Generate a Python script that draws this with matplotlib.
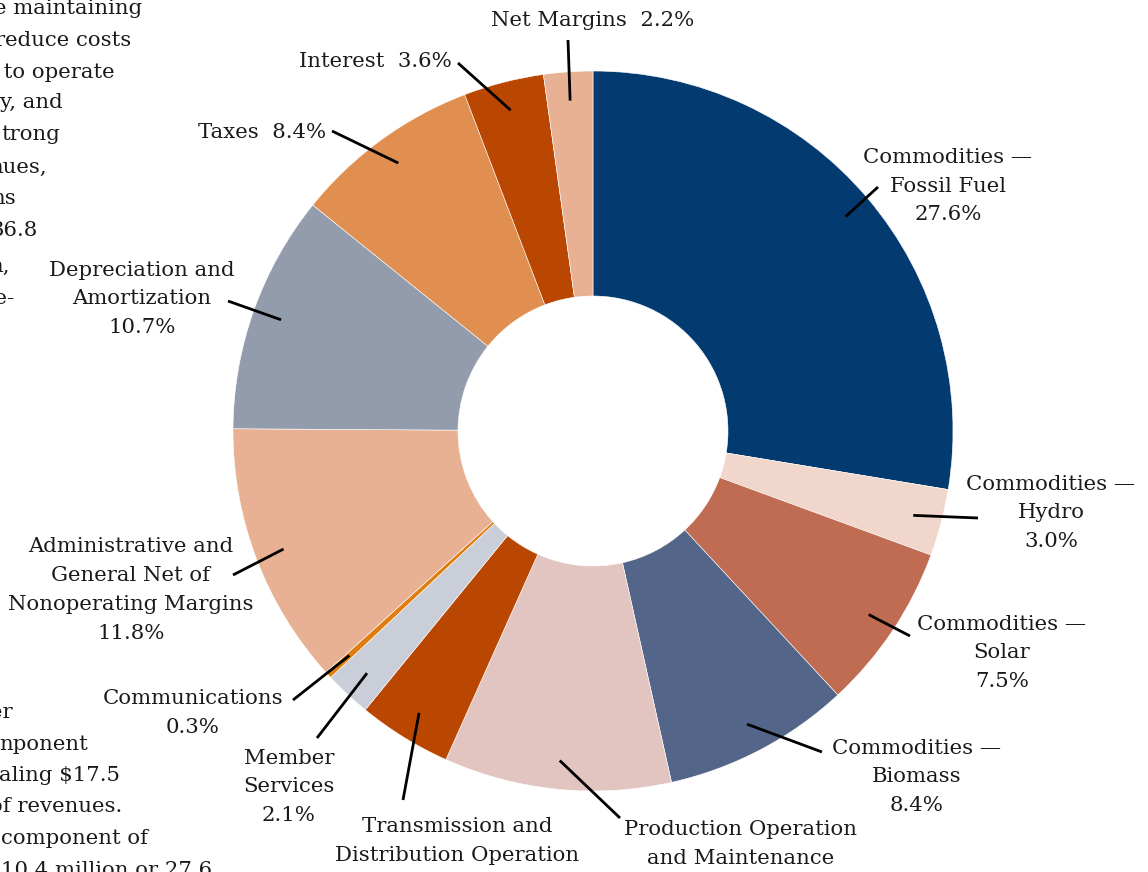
import numpy as np
import matplotlib.pyplot as plt

# data
categories = ['Commodities —\nFossil Fuel', 'Commodities —\nHydro', 'Commodities —\nSolar',
              'Commodities —\nBiomass', 'Production Operation\nand Maintenance',
              'Transmission and\nDistribution Operation', 'Member\nServices', 'Communications',
              'Administrative and\nGeneral Net of\nNonoperating Margins',
              'Depreciation and\nAmortization', 'Taxes', 'Interest', 'Net Margins']
shares = [27.6, 3.0, 7.5, 8.4, 10.2, 4.2, 2.1, 0.3, 11.8, 10.7, 8.4, 3.6, 2.2]
# how the share is shown next to the name ('below', 'inline' or cut off by the page crop)
pct_mode = ['below'] * 4 + ['none', 'none'] + ['below'] * 4 + ['inline'] * 3
colors = ['#033a70', '#f1d6cb', '#c06c52', '#536588', '#e2c5c1', '#b94701', '#c9ced8',
          '#e07d10', '#e8b193', '#939cac', '#e08f51', '#b94701', '#e8b193']

# label layout in pixels (text centre, leader end)
label_xy = [(948, 186), (1051, 513), (1002, 653), (917, 777), (741, 844), (457, 841),
            (289, 787), (193, 713), (131, 590), (142, 299), (262, 132), (375, 61), (593, 20)]
leader_end = [(878, 187), (978, 518), (910, 636), (822, 752), (620, 818), (403, 800),
              (317, 738), (293, 700), (233, 575), (228, 301), (332, 131), (458, 63), (568, 40)]

# fragments of body text cut by the crop
top_frag = ['e maintaining', 'reduce costs', ' to operate', 'y, and', 'trong', 'nues,',
            'ns', '36.8', 'n,', 'ee-']
top_frag_xy = [(142, 8), (131, 40), (115, 72), (63, 103), (60, 135), (47, 167),
               (16, 199), (38, 231), (10, 266), (14, 298)]
bot_frag = ['er', 'nponent', 'aling $17.5', 'of revenues.', 'component of', '10.4 million or 27.6']
bot_frag_xy = [(13, 712), (88, 744), (120, 775), (122, 806), (148, 838), (212, 870)]

W, H = 1148, 872
cx, cy, R = 593, 431, 360

plt.rcParams['font.family'] = ['DejaVu Serif']
fig = plt.figure(figsize=(W / 100, H / 100), dpi=100)
ax = fig.add_axes([0, 0, 1, 1])


def px(x, y):
    return (x - cx) / R, (cy - y) / R


ax.pie(shares, colors=colors, startangle=90, counterclock=False, radius=1,
       wedgeprops=dict(width=0.625, edgecolor='white', linewidth=0.4))
ax.set_xlim(px(0, 0)[0], px(W, 0)[0])
ax.set_ylim(px(0, H)[1], px(0, 0)[1])
ax.set_aspect('equal')
ax.axis('off')

fs = 15.3
cum = np.cumsum([0] + shares[:-1])
for i, name in enumerate(categories):
    mid = np.deg2rad((cum[i] + shares[i] / 2) * 3.6)
    r0 = 0.92
    x0, y0 = r0 * np.sin(mid), r0 * np.cos(mid)
    x1, y1 = px(*leader_end[i])
    ax.plot([x0, x1], [y0, y1], color='black', lw=2, solid_capstyle='butt')
    if pct_mode[i] == 'inline':
        txt = f'{name}  {shares[i]:.1f}%'
    elif pct_mode[i] == 'below':
        txt = f'{name}\n{shares[i]:.1f}%'
    else:
        txt = name
    tx, ty = px(*label_xy[i])
    ax.text(tx, ty, txt, ha='center', va='center', fontsize=fs, linespacing=1.65,
            color='#1a1a1a')

for s, (x, y) in zip(top_frag, top_frag_xy):
    fig.text(x / W, 1 - y / H, s, ha='right', va='center', fontsize=fs, color='#1a1a1a')
for s, (x, y) in zip(bot_frag, bot_frag_xy):
    fig.text(x / W, 1 - y / H, s, ha='right', va='center', fontsize=fs, color='#1a1a1a')

fig.savefig('out.png', dpi=100)
